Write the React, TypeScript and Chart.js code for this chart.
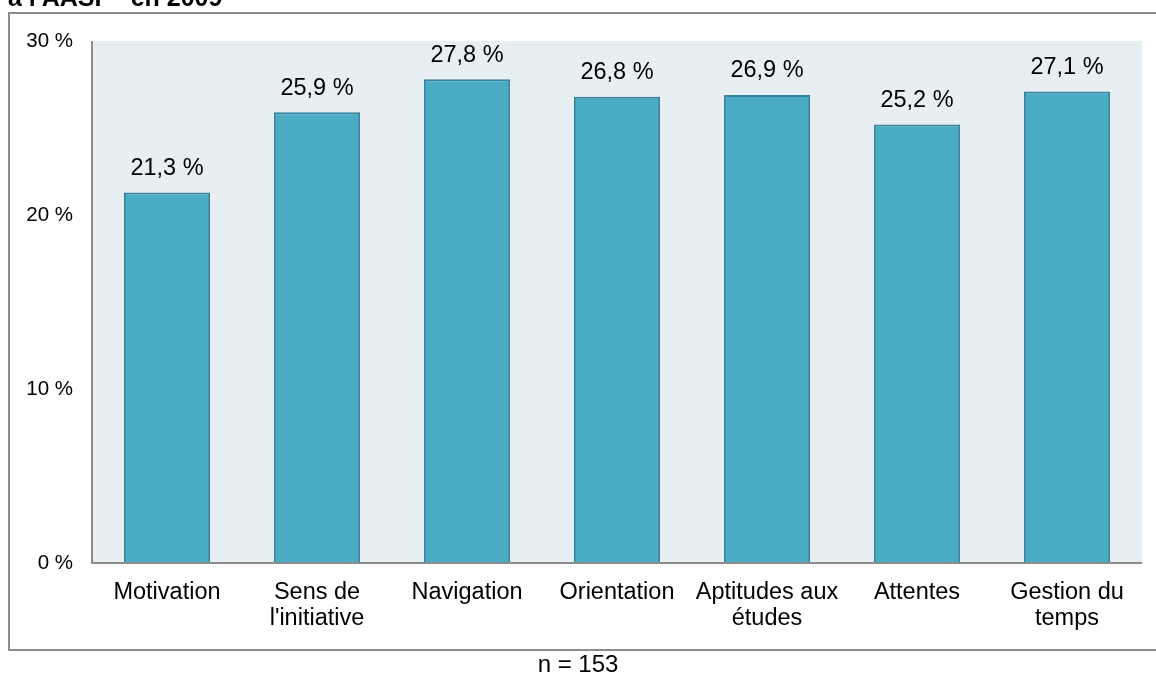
import React, { useEffect, useRef } from "react";
import { Chart, registerables } from "chart.js";

Chart.register(...registerables);

const categories: (string | string[])[] = [
  "Motivation",
  ["Sens de", "l'initiative"],
  "Navigation",
  "Orientation",
  ["Aptitudes aux", "études"],
  "Attentes",
  ["Gestion du", "temps"],
];
const values: number[] = [21.3, 25.9, 27.8, 26.8, 26.9, 25.2, 27.1];
const yTicks: number[] = [0, 10, 20, 30];
const titleText = "à l'AASP\u201D en 2009";
const footerText = "n = 153";

const FONT = "'Liberation Sans', Arial, Helvetica, sans-serif";

const decorPlugin = {
  id: "decor",
  beforeDraw(chart: any) {
    const { ctx, chartArea } = chart;
    ctx.save();
    ctx.strokeStyle = "#8c8c8c";
    ctx.lineWidth = 2;
    ctx.strokeRect(9, 13, 1156, 637);
    ctx.fillStyle = "#e8eff3";
    ctx.fillRect(chartArea.left, chartArea.top, chartArea.right - chartArea.left, chartArea.bottom - chartArea.top);
    ctx.fillStyle = "#000";
    ctx.font = `bold 25px ${FONT}`;
    ctx.textAlign = "left";
    ctx.textBaseline = "alphabetic";
    ctx.fillText(titleText, 8, 6);
    ctx.font = `24px ${FONT}`;
    ctx.textAlign = "center";
    ctx.textBaseline = "middle";
    ctx.fillText(footerText, 578, 665);
    ctx.restore();
  },
  afterDatasetsDraw(chart: any) {
    const { ctx } = chart;
    const meta = chart.getDatasetMeta(0);
    ctx.save();
    ctx.fillStyle = "#000";
    ctx.font = `23.5px ${FONT}`;
    ctx.textAlign = "center";
    ctx.textBaseline = "middle";
    meta.data.forEach((bar: any, i: number) => {
      const v = values[i];
      ctx.fillText(v.toFixed(1).replace(".", ",") + " %", bar.x, bar.y - 24);
    });
    const { chartArea } = chart;
    ctx.strokeStyle = "#8c8c8c";
    ctx.lineWidth = 2;
    ctx.beginPath();
    ctx.moveTo(chartArea.left, chartArea.top);
    ctx.lineTo(chartArea.left, chartArea.bottom);
    ctx.lineTo(chartArea.right, chartArea.bottom);
    ctx.stroke();
    ctx.restore();
  },
};

export default function App() {
  const ref = useRef<HTMLCanvasElement | null>(null);
  useEffect(() => {
    if (!ref.current) return;
    const chart = new Chart(ref.current, {
      type: "bar",
      data: {
        labels: categories,
        datasets: [
          {
            data: values,
            backgroundColor: "#4bacc6",
            borderColor: "#38849c",
            borderWidth: 2,
            categoryPercentage: 1,
            barPercentage: 0.575,
          },
        ],
      },
      options: {
        animation: false,
        responsive: false,
        layout: { padding: { left: 8, right: 14, top: 41, bottom: 0 } },
        plugins: { legend: { display: false }, tooltip: { enabled: false }, title: { display: false } },
        scales: {
          x: {
            grid: { display: false },
            border: { display: false },
            ticks: {
              color: "#000",
              font: { family: FONT, size: 23.5, lineHeight: 1.13 },
              padding: 8,
              maxRotation: 0,
              autoSkip: false,
            },
            afterFit(scale: any) {
              scale.height = 114;
            },
          },
          y: {
            min: 0,
            max: 30,
            afterBuildTicks(scale: any) {
              scale.ticks = yTicks.map((v) => ({ value: v }));
            },
            grid: { display: false },
            border: { display: false },
            ticks: {
              color: "#000",
              font: { family: FONT, size: 20.5 },
              padding: 11,
              callback: (v: any) => `${v} %`,
            },
            afterFit(scale: any) {
              scale.width = 84;
            },
          },
        },
      },
      plugins: [decorPlugin],
    });
    return () => chart.destroy();
  }, []);
  return (
    <div style={{ position: "fixed", left: 0, top: 0, width: 1156, height: 677, background: "#fff" }}>
      <canvas ref={ref} width={1156} height={677} />
    </div>
  );
}
